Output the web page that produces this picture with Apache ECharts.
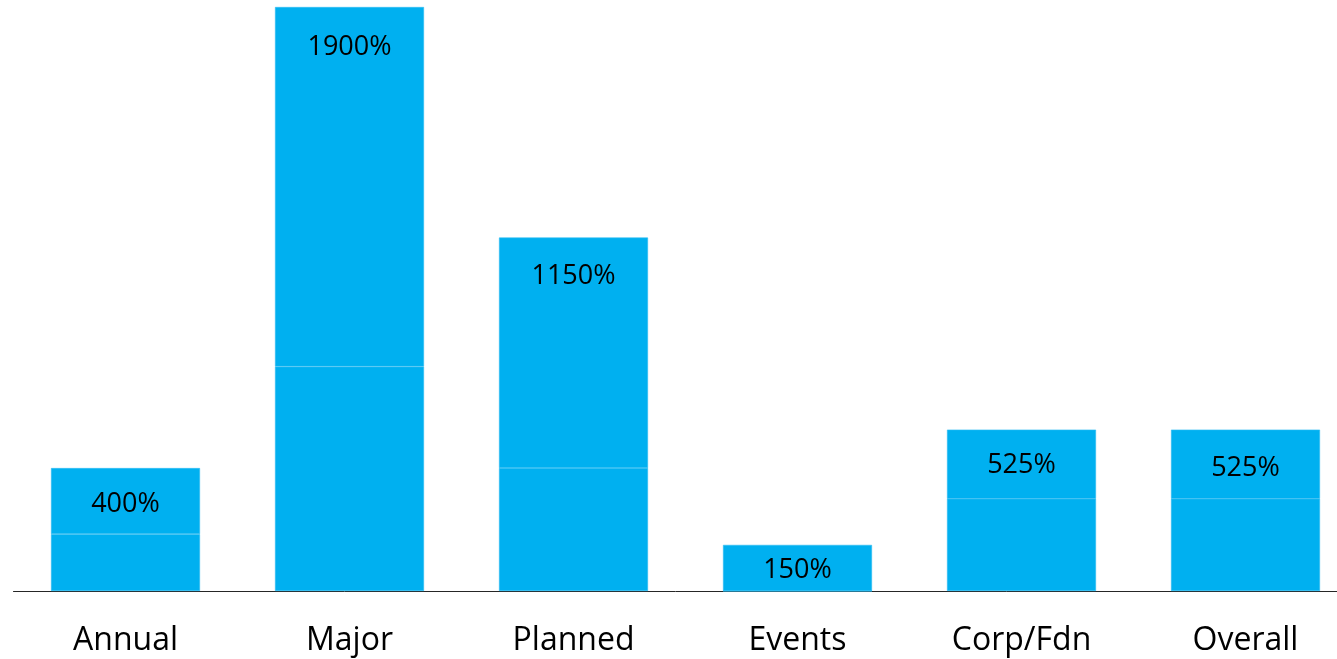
<!DOCTYPE html>
<html>
<head>
<meta charset="utf-8">
<script src="https://cdn.jsdelivr.net/npm/echarts@6/dist/echarts.min.js"></script>
<style>
  html, body { margin: 0; padding: 0; background: #fff; }
  #chart { width: 1337px; height: 659px; }
</style>
</head>
<body>
<div id="chart"></div>
<script>
// categories and the two stacked parts of each bar (top label shows the total)
var categories = ['Annual', 'Major', 'Planned', 'Events', 'Corp/Fdn', 'Overall'];
var lowerPart = [185, 730, 400, 0, 300, 300];
var upperPart = [215, 1170, 750, 150, 225, 225];
var labelGap = [23, 27, 25, 12, 22, 25];

document.addEventListener('DOMContentLoaded', function () {
    var chartDom = document.getElementById('chart');
    var myChart = echarts.init(chartDom);

    var barStyle = {
        color: '#00B0F0',
        borderColor: '#2dbcf2',
        borderWidth: 0.6
    };

    var upperData = upperPart.map(function (v, i) {
        return { value: v, label: { distance: labelGap[i] } };
    });

    var option = {
        animation: false,
        grid: {
            left: 13.5, right: -20.5, top: 7, bottom: 68,
            containLabel: false,
            outerBoundsMode: 'none'
        },
        xAxis: {
            type: 'category',
            data: categories,
            axisLine: { lineStyle: { color: '#262626', width: 1 } },
            axisTick: { show: false },
            axisLabel: {
                color: '#000',
                fontFamily: 'Open Sans',
                fontSize: 32,
                margin: 34
            }
        },
        yAxis: {
            type: 'value',
            min: 0,
            max: 1900,
            show: false,
            splitLine: { show: false }
        },
        series: [
            {
                type: 'bar',
                stack: 'total',
                barWidth: 149,
                itemStyle: barStyle,
                data: lowerPart
            },
            {
                type: 'bar',
                stack: 'total',
                barWidth: 149,
                itemStyle: barStyle,
                label: {
                    show: true,
                    position: 'insideTop',
                    color: '#000',
                    fontFamily: 'Open Sans',
                    fontSize: 27,
                    formatter: function (p) {
                        return (lowerPart[p.dataIndex] + upperPart[p.dataIndex]) + '%';
                    }
                },
                data: upperData
            }
        ]
    };
    myChart.setOption(option);
    window.addEventListener('resize', function () {
        myChart.resize();
    });
});
</script>
</body>
</html>
